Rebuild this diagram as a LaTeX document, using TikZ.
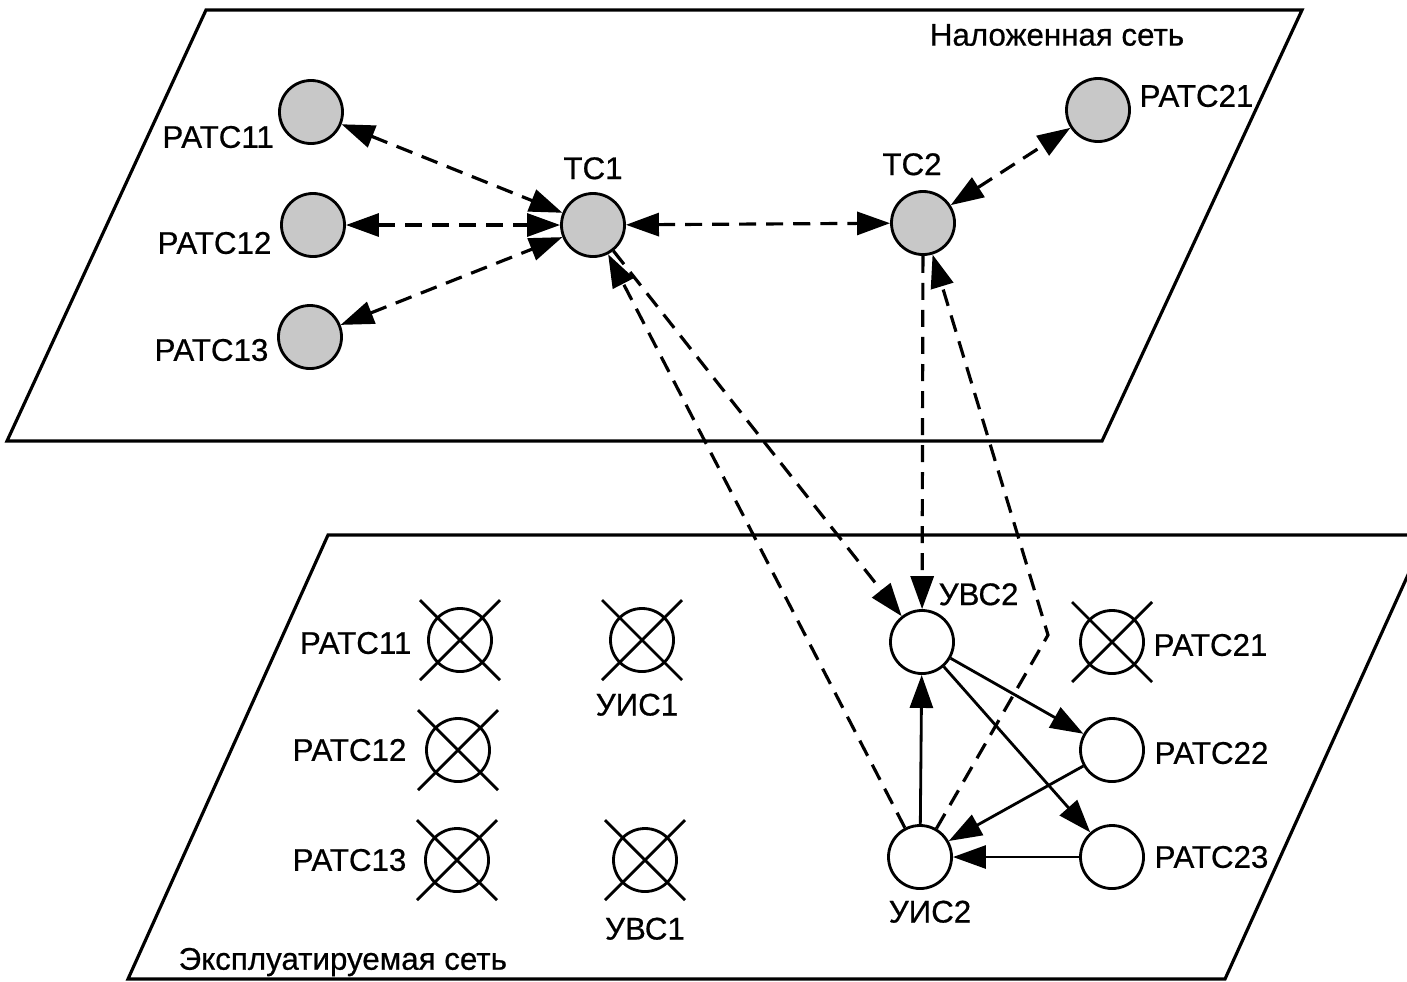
\documentclass[tikz,border=0pt]{standalone}
\usepackage{fontspec}
\setmainfont{Liberation Sans}
\newfontfamily\labelfont[FakeBold=0.6]{Liberation Sans}
\usetikzlibrary{positioning,arrows.meta}
\definecolor{stationFill}{HTML}{C8C8C8}

\begin{document}
\begin{tikzpicture}[
    x=0.01cm, y=-0.01cm,
    station/.style={
        circle, draw, line width=0.8pt,
        minimum size=0.63cm, inner sep=0pt
    },
    upper/.style={station, fill=stationFill},
    lower/.style={station, fill=white},
    downed/.style={station},
    lbl/.style={font=\labelfont\fontsize{8.9}{11}\selectfont, inner sep=0pt},
    plane/.style={line width=0.9pt},
    cross/.style={line width=0.8pt},
    link/.style={-{Triangle[length=0.33cm,width=0.23cm]}, line width=0.8pt},
    dlink/.style={link, line width=0.9pt, dash pattern=on 0.17cm off 0.1cm},
    duplex/.style={dlink, {Triangle[length=0.33cm,width=0.23cm]}-{Triangle[length=0.33cm,width=0.23cm]}}
]
  \useasboundingbox (0,0) rectangle (1407,981);
  \clip (0,0) rectangle (1407,981);

  % Planes
  \draw[plane] (206,10) -- (1302,10) -- (1102,441) -- (7,441) -- cycle;
  \draw[plane] (328,535) -- (1426,535) -- (1225,979) -- (128,979) -- cycle;
  \node[lbl] (overlayT) at (1057,35) {Наложенная сеть};
  \node[lbl, anchor=west] (baseT) at (178,962) {Эксплуатируемая сеть};

  % Overlay network nodes
  \node[upper] (r11) at (311,112) {};
  \node[upper] (r12) at (313,225) {};
  \node[upper] (r13) at (310,337) {};
  \node[upper] (tc1) at (593,225) {};
  \node[upper] (tc2) at (923,223) {};
  \node[upper] (r21) at (1098,110) {};

  \node[lbl, left=1pt of r11.west, yshift=-0.25cm] (r11l) {РАТС11};
  \node[lbl, left=0.08cm of r12.west, yshift=-0.18cm] (r12l) {РАТС12};
  \node[lbl, left=0.08cm of r13.west, yshift=-0.13cm] (r13l) {РАТС13};
  \node[lbl, above=0.12cm of tc1] (tc1l) {ТС1};
  \node[lbl, above=0.14cm of tc2, xshift=-0.11cm] (tc2l) {ТС2};
  \node[lbl, right=0.08cm of r21.east, yshift=0.14cm] (r21l) {РАТС21};

  % Operated network nodes
  \node[lower] (uvs2) at (922,642) {};
  \node[lower] (uis2) at (920,857) {};
  \node[lower] (r22) at (1112,750) {};
  \node[lower] (r23) at (1112,857) {};
  \node[downed] (x21) at (1112,642) {};
  \node[downed] (x11) at (460,640) {};
  \node[downed] (x12) at (458,750) {};
  \node[downed] (x13) at (457,860) {};
  \node[downed] (uis1) at (642,640) {};
  \node[downed] (uvs1) at (645,860) {};

  \node[lbl, anchor=south west] (uvs2l) at ([xshift=0.16cm, yshift=0.03cm]uvs2.north) {УВС2};
  \node[lbl, below=0.1cm of uis2, xshift=0.1cm] (uis2l) {УИС2};
  \node[lbl, right=0.08cm of x21.east, yshift=-0.03cm] (x21l) {РАТС21};
  \node[lbl, right=0.09cm of r22.east, yshift=-0.03cm] (r22l) {РАТС22};
  \node[lbl, right=0.09cm of r23.east] (r23l) {РАТС23};
  \node[lbl, left=0.15cm of x11.west, yshift=-0.03cm] (x11l) {РАТС11};
  \node[lbl, left=0.18cm of x12.west] (x12l) {РАТС12};
  \node[lbl, left=0.17cm of x13.west] (x13l) {РАТС13};
  \node[lbl, below=0.2cm of uis1, xshift=-0.05cm] (uis1l) {УИС1};
  \node[lbl, below=0.24cm of uvs1] (uvs1l) {УВС1};

  % Failed nodes crossed out
  \foreach \n in {x11,x12,x13,x21,uis1,uvs1}
    \draw[cross] ([shift={(-40,-40)}]\n.center) -- ([shift={(40,40)}]\n.center)
                 ([shift={(-40,40)}]\n.center) -- ([shift={(40,-40)}]\n.center);

  % Overlay links
  \draw[duplex] (r11) -- (tc1);
  \draw[duplex] (r12) -- (tc1);
  \draw[duplex] (r13) -- (tc1);
  \draw[duplex] (tc1) -- (tc2);
  \draw[duplex] (tc2) -- (r21);

  % Links between planes
  \coordinate (bend) at (1048,635);
  \draw[dlink] (tc1) -- (uvs2);
  \draw[dlink] (uis2) -- (tc1);
  \draw[dlink] (tc2) -- (uvs2);
  \draw[dlink] (uis2) -- (bend) -- (tc2);

  % Operated network links
  \draw[link] (uis2) -- (uvs2);
  \draw[link] (uvs2) -- (r22);
  \draw[link] (uvs2) -- (r23);
  \draw[link] (r22) -- (uis2);
  \draw[link] (r23) -- (uis2);
\end{tikzpicture}
\end{document}
